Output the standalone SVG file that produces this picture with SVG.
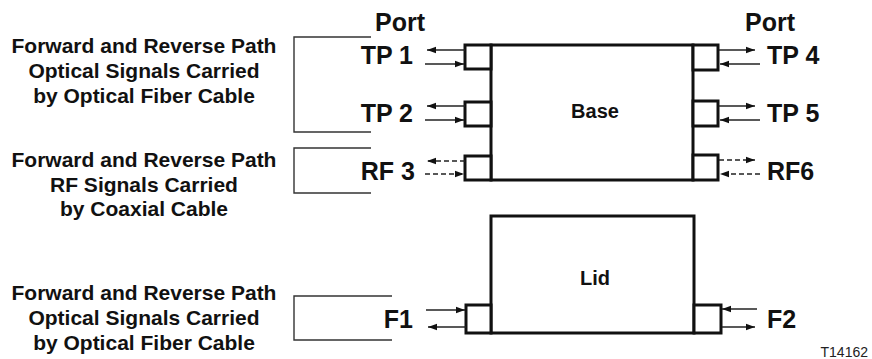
<svg xmlns="http://www.w3.org/2000/svg" width="872" height="359" viewBox="0 0 872 359">
<style>
.desc{font-family:"Liberation Sans",Arial,sans-serif;font-weight:bold;font-size:21px;fill:#111;text-anchor:middle}
.lbl{font-family:"Liberation Sans",Arial,sans-serif;font-weight:bold;font-size:25px;fill:#111}
.name{font-family:"Liberation Sans",Arial,sans-serif;font-weight:bold;font-size:20px;fill:#111;text-anchor:middle}
.box{fill:#fff;stroke:#111;stroke-width:3}
.port{fill:#fff;stroke:#111;stroke-width:3}
.br{fill:none;stroke:#333;stroke-width:1.4}
.ar{fill:none;stroke:#222;stroke-width:1.4;marker-end:url(#ah)}
.dash{stroke-dasharray:5 3}
</style>
<defs>
<marker id="ah" markerUnits="userSpaceOnUse" markerWidth="10" markerHeight="8" refX="9" refY="4" orient="auto">
<path d="M0,0.8 L9,4 L0,7.2 Z" fill="#111"/>
</marker>
</defs>
<g id="desc1"><text class="desc" x="144" y="53">Forward and Reverse Path</text><text class="desc" x="144" y="78">Optical Signals Carried</text><text class="desc" x="144" y="103">by Optical Fiber Cable</text></g>
<g id="desc2"><text class="desc" x="144" y="167">Forward and Reverse Path</text><text class="desc" x="144" y="192">RF Signals Carried</text><text class="desc" x="144" y="216">by Coaxial Cable</text></g>
<g id="desc3"><text class="desc" x="144" y="300">Forward and Reverse Path</text><text class="desc" x="144" y="325">Optical Signals Carried</text><text class="desc" x="144" y="350">by Optical Fiber Cable</text></g>
<g id="brackets">
<path class="br" d="M371,37 H294 V132 H371"/>
<path class="br" d="M371,148 H294 V193 H371"/>
<path class="br" d="M392,296 H294 V340 H392"/>
</g>
<g id="base"><rect class="box" x="491" y="45" width="202" height="135"/><text class="name" x="595" y="118">Base</text></g>
<g id="lid"><rect class="box" x="491" y="216" width="203" height="117"/><text class="name" x="595" y="285">Lid</text></g>
<g id="tp1"><rect class="port" x="465" y="45" width="26" height="24"/><text class="lbl" x="413" y="64" text-anchor="end">TP 1</text></g>
<g id="tp2"><rect class="port" x="465" y="102" width="26" height="24"/><text class="lbl" x="413" y="122" text-anchor="end">TP 2</text></g>
<g id="rf3"><rect class="port" x="465" y="156" width="26" height="24"/><text class="lbl" x="415" y="180" text-anchor="end">RF 3</text></g>
<g id="tp4"><rect class="port" x="693" y="45" width="25" height="25"/><text class="lbl" x="767" y="64">TP 4</text></g>
<g id="tp5"><rect class="port" x="693" y="101" width="25" height="25"/><text class="lbl" x="767" y="122">TP 5</text></g>
<g id="rf6"><rect class="port" x="693" y="155" width="25" height="25"/><text class="lbl" x="767" y="180">RF6</text></g>
<g id="f1"><rect class="port" x="466" y="305" width="25" height="28"/><text class="lbl" x="413" y="328" text-anchor="end">F1</text></g>
<g id="f2"><rect class="port" x="694" y="305" width="27" height="28"/><text class="lbl" x="767" y="328">F2</text></g>
<g id="headers"><text class="lbl" x="375" y="31">Port</text><text class="lbl" x="745" y="31">Port</text></g>
<g id="connectors">
<line class="ar" x1="465" y1="50" x2="427" y2="50"/>
<line class="ar" x1="425" y1="64" x2="464" y2="64"/>
<line class="ar" x1="465" y1="106" x2="427" y2="106"/>
<line class="ar" x1="425" y1="120" x2="464" y2="120"/>
<line class="ar dash" x1="465" y1="161" x2="427" y2="161"/>
<line class="ar dash" x1="425" y1="174" x2="464" y2="174"/>
<line class="ar" x1="719" y1="50" x2="755" y2="50"/>
<line class="ar" x1="760" y1="64" x2="720" y2="64"/>
<line class="ar" x1="719" y1="106" x2="755" y2="106"/>
<line class="ar" x1="760" y1="120" x2="720" y2="120"/>
<line class="ar dash" x1="719" y1="160" x2="755" y2="160"/>
<line class="ar dash" x1="760" y1="174" x2="720" y2="174"/>
<line class="ar" x1="426" y1="310" x2="465" y2="310"/>
<line class="ar" x1="466" y1="327" x2="428" y2="327"/>
<line class="ar" x1="757" y1="309" x2="722" y2="309"/>
<line class="ar" x1="722" y1="327" x2="755" y2="327"/>
</g>
<text x="868" y="357" text-anchor="end" font-family="Liberation Sans, Arial, sans-serif" font-size="14" fill="#222">T14162</text>
</svg>
